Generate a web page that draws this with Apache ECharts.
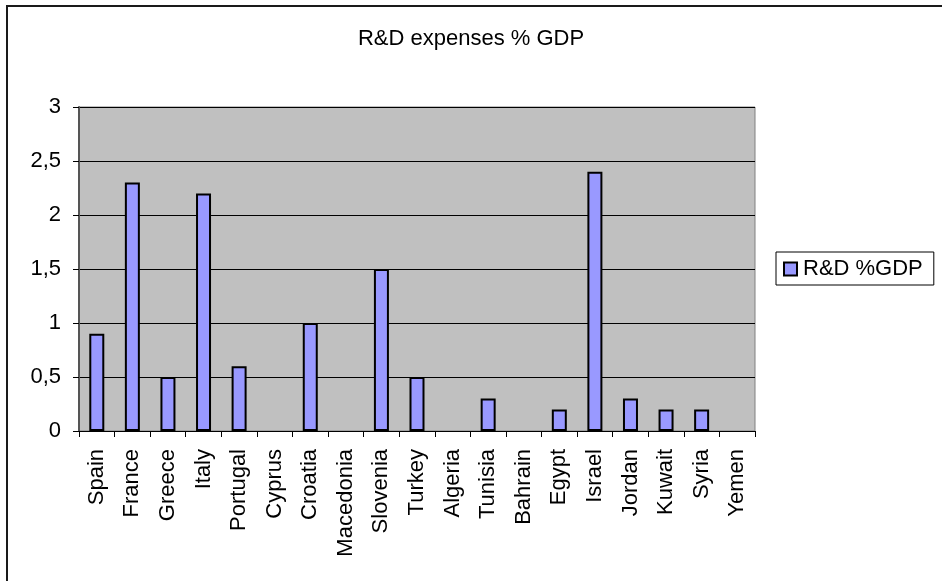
<!DOCTYPE html>
<html>
<head>
<meta charset="utf-8">
<style>
  html, body { margin: 0; padding: 0; background: #fff; }
  #chart { width: 942px; height: 581px; }
</style>
<script src="https://cdn.jsdelivr.net/npm/echarts@6/dist/echarts.min.js"></script>
</head>
<body>
<div id="chart"></div>
<script>
// Countries along the horizontal axis
const countries = ['Spain', 'France', 'Greece', 'Italy', 'Portugal', 'Cyprus', 'Croatia',
  'Macedonia', 'Slovenia', 'Turkey', 'Algeria', 'Tunisia', 'Bahrain', 'Egypt', 'Israel',
  'Jordan', 'Kuwait', 'Syria', 'Yemen'];

// R&D spending as a share of GDP (null = no figure available)
const rdShare = [0.9, 2.3, 0.5, 2.2, 0.6, null, 1.0,
  null, 1.5, 0.5, null, 0.3, null, 0.2, 2.4,
  0.3, 0.2, 0.2, null];

// Value axis ticks
const yTicks = [0, 0.5, 1, 1.5, 2, 2.5, 3];

const chartTitle = 'R&D expenses % GDP';
const seriesName = 'R&D %GDP';

const FONT = '"Liberation Sans", Arial, sans-serif';

const chart = echarts.init(document.getElementById('chart'), null, { renderer: 'canvas' });

chart.setOption({
  backgroundColor: '#ffffff',
  animation: false,
  textStyle: { fontFamily: FONT, color: '#000' },
  graphic: [{
    type: 'rect',
    silent: true,
    shape: { x: 7, y: 6, width: 2000, height: 2000 },
    style: { fill: 'none', stroke: '#1a1a1a', lineWidth: 2 }
  }],
  title: {
    text: chartTitle,
    left: 'center',
    top: 23,
    textStyle: { fontFamily: FONT, fontSize: 22, fontWeight: 'normal', color: '#000' }
  },
  legend: {
    data: [seriesName],
    orient: 'vertical',
    left: 776,
    top: 252,
    padding: [6, 11, 5, 7],
    backgroundColor: '#fff',
    borderColor: '#000',
    borderWidth: 1,
    borderRadius: 0,
    icon: 'rect',
    itemWidth: 13,
    itemHeight: 13,
    itemGap: 0,
    itemStyle: { color: '#9999FF', borderColor: '#000', borderWidth: 2 },
    textStyle: { fontFamily: FONT, fontSize: 22, color: '#000', padding: [0, 0, 0, 1] }
  },
  grid: {
    left: 79,
    right: 187,
    top: 107,
    bottom: 150,
    show: true,
    backgroundColor: '#C0C0C0',
    borderColor: '#808080',
    borderWidth: 1
  },
  xAxis: {
    type: 'category',
    data: countries,
    boundaryGap: true,
    axisLine: { show: true, lineStyle: { color: '#000', width: 1 } },
    axisTick: { show: true, alignWithLabel: false, interval: 0, length: 6, lineStyle: { color: '#000' } },
    axisLabel: {
      interval: 0,
      rotate: 90,
      margin: 18,
      fontFamily: FONT,
      fontSize: 22,
      color: '#000'
    },
    splitLine: { show: false }
  },
  yAxis: {
    type: 'value',
    min: yTicks[0],
    max: yTicks[yTicks.length - 1],
    interval: 0.5,
    axisLine: { show: true, lineStyle: { color: '#555', width: 2 } },
    axisTick: { show: true, length: 6, lineStyle: { color: '#000' } },
    axisLabel: {
      margin: 18,
      fontFamily: FONT,
      fontSize: 22,
      color: '#000',
      formatter: v => String(v).replace('.', ',')
    },
    splitLine: { show: true, lineStyle: { color: '#000', width: 1 } }
  },
  series: [{
    name: seriesName,
    type: 'bar',
    data: rdShare,
    barWidth: 15,
    itemStyle: { color: '#9999FF', borderColor: '#000', borderWidth: 2 }
  }]
});
</script>
</body>
</html>
